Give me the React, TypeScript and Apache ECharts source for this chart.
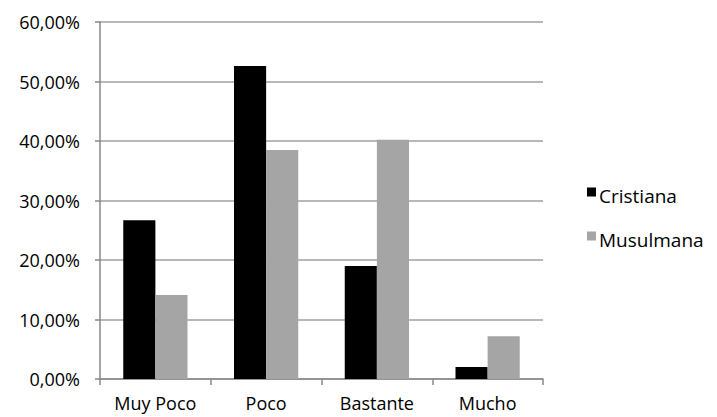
import React, { useEffect, useRef } from "react";
import * as echarts from "echarts";

const categories = ["Muy Poco", "Poco", "Bastante", "Mucho"];
const cristiana = [26.7, 52.6, 19.0, 2.0];
const musulmana = [14.1, 38.5, 40.2, 7.2];
const seriesNames = ["Cristiana", "Musulmana"];

export default function App() {
  const ref = useRef<HTMLDivElement>(null);
  useEffect(() => {
    if (!ref.current) return;
    const chart = echarts.init(ref.current, undefined, { renderer: "svg" });
    const font = "'Open Sans', Lato, sans-serif";
    chart.setOption({
      animation: false,
      textStyle: { fontFamily: font },
      grid: { left: 100, right: 174, top: 22, bottom: 38 },
      legend: {
        orient: "vertical",
        left: 587,
        top: 186,
        padding: 0,
        itemWidth: 9,
        itemHeight: 16,
        itemGap: 25,
        icon: "path://M0,0h9v9h-9z M0,16h0.01v-0.01h-0.01z",
        data: seriesNames,
        textStyle: { fontFamily: font, fontSize: 19, color: "#000", padding: [0, 0, 0, -2] },
      },
      xAxis: {
        type: "category",
        data: categories,
        axisLine: { lineStyle: { color: "#888", width: 1.5 } },
        axisTick: { show: true, length: 6, lineStyle: { color: "#888", width: 1.5 } },
        axisLabel: {
          fontSize: 18,
          lineHeight: 18,
          color: "#000",
          margin: 15,
          fontFamily: font,
          interval: 0,
        },
      },
      yAxis: {
        type: "value",
        min: 0,
        max: 60,
        interval: 10,
        axisLine: { show: true, lineStyle: { color: "#888", width: 1.5 } },
        axisTick: { show: true, length: 5, lineStyle: { color: "#888", width: 1.5 } },
        splitLine: { lineStyle: { color: "#a0a0a0", width: 1.5 } },
        axisLabel: {
          fontSize: 18,
          color: "#000",
          margin: 20,
          fontFamily: font,
          formatter: (v: number) => v.toFixed(2).replace(".", ",") + "%",
        },
      },
      series: [
        {
          name: seriesNames[0],
          type: "bar",
          data: cristiana,
          barGap: "0%",
          barCategoryGap: "42%",
          itemStyle: { color: "#000000" },
        },
        {
          name: seriesNames[1],
          type: "bar",
          data: musulmana,
          barGap: "0%",
          barCategoryGap: "42%",
          itemStyle: { color: "#a5a5a5" },
        },
      ],
    });
    return () => chart.dispose();
  }, []);
  return (
    <div
      ref={ref}
      style={{ position: "absolute", left: 0, top: 0, width: 717, height: 417 }}
    />
  );
}
